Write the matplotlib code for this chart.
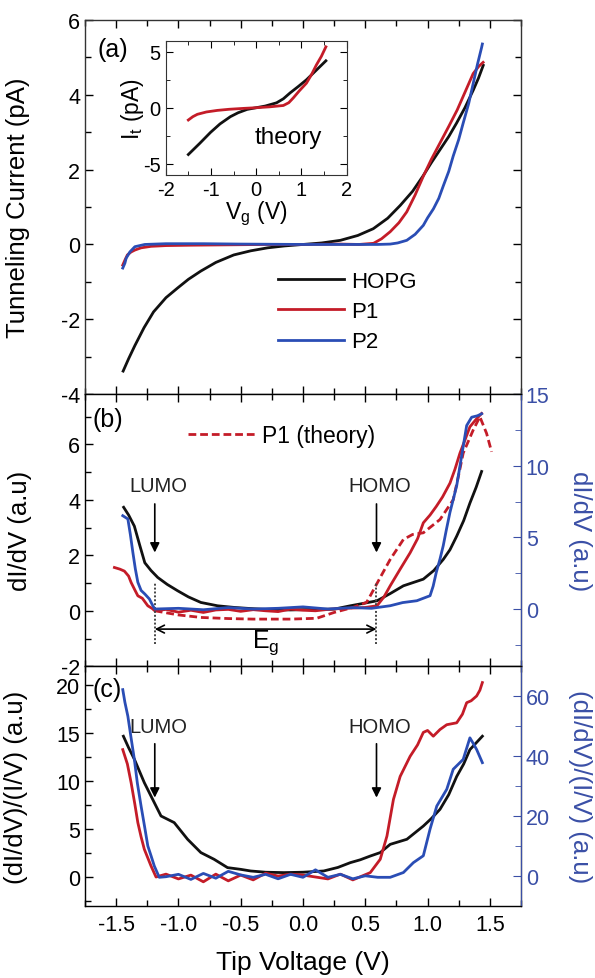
import matplotlib
matplotlib.use("Agg")
import matplotlib.pyplot as plt
from matplotlib.ticker import MultipleLocator
from matplotlib.lines import Line2D

plt.rcParams['font.family'] = ['Liberation Sans', 'DejaVu Sans']
plt.rcParams['mathtext.fontset'] = 'custom'
plt.rcParams['mathtext.rm'] = 'Liberation Sans'
plt.rcParams['mathtext.it'] = 'Liberation Sans'
plt.rcParams['axes.unicode_minus'] = False

BLACK = '#111111'
RED = '#c41c28'
BLUE = '#2a4db5'
AXBLUE = '#3a4fa6'

# ---------------- data: panel (a) ----------------
a_hopg_v = [-1.444, -1.40, -1.35, -1.276, -1.20, -1.10, -1.006, -0.92, -0.82, -0.70, -0.556, -0.42,
            -0.284, -0.15, 0, 0.15, 0.30, 0.44, 0.564, 0.68, 0.78, 0.88, 0.964, 1.03, 1.10, 1.17,
            1.233, 1.30, 1.367, 1.41, 1.447]
a_hopg_i = [-3.38, -3.05, -2.70, -2.22, -1.80, -1.42, -1.16, -0.93, -0.71, -0.48, -0.28, -0.17,
            -0.09, -0.04, 0, 0.04, 0.11, 0.24, 0.42, 0.70, 1.04, 1.42, 1.83, 2.18, 2.53, 2.88,
            3.24, 3.65, 4.12, 4.45, 4.78]
a_p1_v = [-1.447, -1.43, -1.41, -1.38, -1.35, -1.30, -1.22, -1.10, -0.9, -0.6, -0.3, 0, 0.3, 0.45,
          0.566, 0.63, 0.70, 0.77, 0.833, 0.90, 0.967, 1.03, 1.10, 1.17, 1.238, 1.30, 1.366, 1.41, 1.446]
a_p1_i = [-0.55, -0.42, -0.28, -0.20, -0.15, -0.09, -0.05, -0.03, -0.02, -0.01, 0, 0, 0.01, 0.0,
          0.03, 0.15, 0.34, 0.58, 0.87, 1.32, 1.83, 2.27, 2.71, 3.15, 3.59, 4.06, 4.56, 4.75, 4.86]
a_p2_v = [-1.447, -1.43, -1.42, -1.39, -1.35, -1.27, -1.1, -0.8, -0.5, 0, 0.3, 0.6, 0.70, 0.76,
          0.833, 0.90, 0.966, 1.00, 1.047, 1.09, 1.126, 1.17, 1.206, 1.25, 1.286, 1.33, 1.366,
          1.40, 1.434, 1.44]
a_p2_i = [-0.63, -0.50, -0.37, -0.20, -0.06, 0.0, 0.02, 0.02, 0.01, 0, 0.0, 0.0, 0.01, 0.04,
          0.11, 0.27, 0.51, 0.71, 0.95, 1.23, 1.56, 1.95, 2.36, 2.80, 3.24, 3.76, 4.29, 4.80, 5.26, 5.35]

# inset (theory)
th_hopg_v = [-1.5, -1.25, -1.01, -0.8, -0.57, -0.4, -0.2, 0, 0.2, 0.45, 0.6, 0.75, 0.93, 1.11, 1.3, 1.54]
th_hopg_i = [-4.19, -3.2, -2.21, -1.45, -0.8, -0.45, -0.15, 0, 0.15, 0.44, 0.8, 1.33, 1.9, 2.5, 3.25, 4.2]
th_p1_v = [-1.5, -1.4, -1.3, -1.1, -0.86, -0.6, -0.28, 0, 0.3, 0.6, 0.72, 0.82, 0.95, 1.11, 1.22,
           1.33, 1.44, 1.54]
th_p1_i = [-1.1, -0.8, -0.59, -0.38, -0.24, -0.14, -0.06, 0, 0.08, 0.2, 0.45, 0.88, 1.5, 2.2, 2.95,
           3.83, 4.6, 5.45]

# ---------------- data: panel (b) ----------------
b_hopg_v = [-1.44, -1.40, -1.354, -1.31, -1.27, -1.22, -1.166, -1.09, -1.006, -0.92, -0.82, -0.686,
            -0.55, -0.42, -0.3, -0.1, 0.1, 0.25, 0.38, 0.5, 0.594, 0.70, 0.806, 0.966, 1.05, 1.126,
            1.18, 1.234, 1.29, 1.34, 1.39, 1.434]
b_hopg_y = [3.73, 3.45, 3.05, 2.35, 1.73, 1.45, 1.2, 0.95, 0.72, 0.5, 0.3, 0.18, 0.12, 0.08, 0.05,
            0.03, 0.05, 0.06, 0.18, 0.28, 0.36, 0.62, 0.9, 1.14, 1.45, 1.85, 2.2, 2.69, 3.25, 3.88,
            4.45, 5.02]
b_p1_v = [-1.514, -1.47, -1.434, -1.40, -1.38, -1.35, -1.326, -1.29, -1.246, -1.21, -1.19, -1.1,
          -1.0, -0.9, -0.8, -0.7, -0.6, -0.5, -0.4, -0.3, -0.2, -0.1, 0, 0.1, 0.2, 0.3, 0.4, 0.5,
          0.594, 0.65, 0.7, 0.78, 0.86, 0.92, 0.966, 1.02, 1.07, 1.12, 1.18, 1.22, 1.26, 1.30,
          1.34, 1.39, 1.434]
b_p1_y = [1.56, 1.50, 1.43, 1.25, 1.02, 0.75, 0.54, 0.45, 0.18, 0.08, 0.0, 0.05, -0.05, 0.02,
          -0.06, 0.03, 0.05, -0.02, 0.04, 0.0, -0.03, 0.06, 0.02, 0.0, 0.05, 0.08, 0.1, 0.12,
          0.18, 0.5, 0.9, 1.5, 2.09, 2.6, 3.17, 3.45, 3.76, 4.1, 4.6, 5.1, 5.68, 6.15, 6.63, 6.9, 7.11]
b_p1th_v = [-1.19, -1.0, -0.82, -0.6, -0.4, -0.286, -0.1, 0.11, 0.25, 0.4, 0.51, 0.54, 0.62, 0.70,
            0.806, 0.88, 0.966, 1.1, 1.206, 1.25, 1.286, 1.366, 1.42, 1.474, 1.514]
b_p1th_y = [0.0, -0.15, -0.24, -0.28, -0.3, -0.3, -0.3, -0.27, -0.06, 0.12, 0.3, 0.54, 1.2, 1.85,
            2.57, 2.75, 2.81, 3.29, 4.0, 4.9, 5.68, 6.51, 6.99, 6.39, 5.73]
b_p2_v = [-1.447, -1.406, -1.386, -1.366, -1.346, -1.326, -1.30, -1.27, -1.233, -1.21, -1.19, -1.0,
          -0.8, -0.6, -0.4, -0.2, 0, 0.2, 0.4, 0.55, 0.7, 0.8, 0.914, 1.02, 1.045, 1.07, 1.10,
          1.126, 1.15, 1.18, 1.234, 1.274, 1.314, 1.354, 1.40, 1.434]
b_p2_y = [6.52, 6.29, 5.2, 3.96, 2.8, 1.87, 1.3, 1.05, 0.7, 0.3, 0.0, 0.05, -0.05, 0.1, 0.0, 0.05,
          0.15, 0.0, 0.1, 0.05, 0.23, 0.45, 0.58, 0.93, 1.6, 2.56, 3.5, 4.43, 5.5, 6.76, 8.62,
          10.72, 12.82, 13.4, 13.5, 13.64]

# ---------------- data: panel (c) ----------------
c_hopg_v = [-1.442, -1.40, -1.354, -1.274, -1.194, -1.14, -1.034, -0.926, -0.82, -0.714, -0.606,
            -0.5, -0.42, -0.3, -0.154, 0, 0.166, 0.28, 0.38, 0.46, 0.54, 0.62, 0.7, 0.834, 0.966,
            1.03, 1.1, 1.17, 1.234, 1.29, 1.34, 1.39, 1.44]
c_hopg_y = [14.7, 13.5, 12.3, 9.85, 7.77, 6.37, 5.68, 3.93, 2.55, 1.85, 0.98, 0.8, 0.63, 0.5, 0.46,
            0.5, 0.63, 1.0, 1.5, 1.8, 2.19, 2.55, 3.41, 3.94, 5.32, 6.1, 7.07, 8.6, 10.5, 11.8,
            13.3, 14.0, 14.7]
c_p1_v = [-1.447, -1.41, -1.38, -1.35, -1.326, -1.30, -1.274, -1.22, -1.18, -1.1, -1.0, -0.9, -0.8,
          -0.7, -0.6, -0.5, -0.4, -0.3, -0.2, -0.1, 0, 0.1, 0.2, 0.3, 0.4, 0.54, 0.62, 0.674,
          0.726, 0.78, 0.86, 0.92, 0.966, 1.0, 1.046, 1.1, 1.154, 1.234, 1.28, 1.314, 1.35, 1.394,
          1.42, 1.44]
c_p1_y = [13.3, 11.8, 9.85, 7.6, 5.68, 4.2, 2.9, 1.15, 0.0, 0.3, -0.2, 0.2, -0.5, 0.3, -0.4, 0.2,
          -0.3, 0.4, 0.1, 0.3, 0.2, 0.0, -0.2, 0.3, -0.3, 0.46, 1.85, 4.28, 8.1, 10.5, 12.6, 13.8,
          15.1, 15.3, 14.7, 15.4, 15.9, 16.1, 17.0, 18.2, 18.4, 18.9, 19.5, 20.3]
c_p2_v = [-1.447, -1.43, -1.406, -1.38, -1.354, -1.33, -1.30, -1.27, -1.246, -1.22, -1.194, -1.154,
          -1.1, -1.0, -0.9, -0.8, -0.7, -0.6, -0.5, -0.4, -0.3, -0.2, -0.1, 0, 0.1, 0.2, 0.3, 0.4,
          0.5, 0.6, 0.7, 0.806, 0.886, 0.966, 1.02, 1.074, 1.154, 1.206, 1.286, 1.34, 1.37, 1.394, 1.44]
c_p2_y = [62.2, 58, 53.3, 46, 38.9, 31, 23.3, 16, 10, 6.7, 3.3, -0.5, -0.3, 0.5, -1.2, 0.8, -0.8,
          1.5, 0.3, -0.5, 0.5, -1.0, 0.5, -0.5, 2.0, -0.5, 0.5, -1.0, 0.0, -0.5, -0.5, 1.1, 4.4,
          6.7, 15.6, 23.3, 28.9, 35.6, 38.9, 46.1, 44, 42.2, 37.8]

series_labels = ['HOPG', 'P1', 'P2']
theory_label = 'P1 (theory)'
LUMO_V = -1.19
HOMO_V = 0.59

# ---------------- figure ----------------
fig = plt.figure(figsize=(5.95, 9.79), dpi=100)
L, W = 0.1429, 0.7327
ax_a = fig.add_axes([L, 0.5962, W, 0.3827])
ax_b = fig.add_axes([L, 0.3184, W, 0.2778])
ax_c = fig.add_axes([L, 0.0738, W, 0.2446])
ax_in = fig.add_axes([0.2785, 0.8205, 0.3042, 0.1369])

LW = 2.0
TFS = 15.5
LFS = 18.5
for ax in (ax_a, ax_b, ax_c):
    ax.set_xlim(-1.75, 1.75)
    ax.xaxis.set_major_locator(MultipleLocator(0.5))
    ax.xaxis.set_minor_locator(MultipleLocator(0.25))
    ax.tick_params(which='both', direction='in', top=True, labelsize=TFS)
    ax.tick_params(which='major', length=6, width=1.0)
    ax.tick_params(which='minor', length=4, width=1.0)
    for s in ax.spines.values():
        s.set_linewidth(1.0)
        s.set_color('#333333')

# panel a
ax_a.plot(a_hopg_v, a_hopg_i, color=BLACK, lw=LW, label=series_labels[0])
ax_a.plot(a_p1_v, a_p1_i, color=RED, lw=LW, label=series_labels[1])
ax_a.plot(a_p2_v, a_p2_i, color=BLUE, lw=LW, label=series_labels[2])
ax_a.set_ylim(-4, 6)
ax_a.yaxis.set_major_locator(MultipleLocator(2))
ax_a.yaxis.set_minor_locator(MultipleLocator(1))
ax_a.tick_params(which='both', right=True, labelbottom=False)
ax_a.set_ylabel('Tunneling Current (pA)', fontsize=LFS)
ax_a.yaxis.set_label_coords(-0.126, 0.5)
ax_a.text(0.064, 0.922, '(a)', transform=ax_a.transAxes, fontsize=18, ha='center', va='center')
ax_a.legend(loc='upper left', bbox_to_anchor=(0.4427, 0.33), frameon=False, fontsize=16,
            handlelength=2.95, handletextpad=0.35, labelspacing=0.42, borderpad=0, borderaxespad=0)

# inset
ax_in.plot(th_hopg_v, th_hopg_i, color=BLACK, lw=LW)
ax_in.plot(th_p1_v, th_p1_i, color=RED, lw=LW)
ax_in.set_xlim(-2, 2)
ax_in.set_ylim(-6, 6)
ax_in.xaxis.set_major_locator(MultipleLocator(1))
ax_in.xaxis.set_minor_locator(MultipleLocator(0.5))
ax_in.yaxis.set_major_locator(MultipleLocator(5))
ax_in.yaxis.set_minor_locator(MultipleLocator(2.5))
ax_in.tick_params(which='both', direction='in', top=True, right=True, labelsize=14.5)
ax_in.tick_params(which='major', length=5)
ax_in.tick_params(which='minor', length=3)
for s in ax_in.spines.values():
    s.set_color('#333333')
ax_in.set_xlabel(r'V$_\mathregular{g}$ (V)', fontsize=16.5, labelpad=0)
ax_in.set_ylabel(r'I$_\mathregular{t}$ (pA)', fontsize=16.5, labelpad=-2)
ax_in.text(0.71, -2.65, 'theory', fontsize=17.5, ha='center', va='center')

# panel b
ax_b.plot(b_hopg_v, b_hopg_y, color=BLACK, lw=LW)
ax_b.plot(b_p1_v, b_p1_y, color=RED, lw=LW)
ax_b.plot(b_p1th_v, b_p1th_y, color=RED, lw=LW, dashes=(2.8, 1.4))
ax_b.set_ylim(-2, 7.8)
ax_b.yaxis.set_major_locator(MultipleLocator(2))
ax_b.yaxis.set_minor_locator(MultipleLocator(1))
ax_b.tick_params(which='both', labelbottom=False)
ax_b.set_ylabel('dI/dV (a.u)', fontsize=LFS)
ax_b.yaxis.set_label_coords(-0.122, 0.5)
ax_b.text(0.053, 0.908, '(b)', transform=ax_b.transAxes, fontsize=18, ha='center', va='center')
ax_b2 = ax_b.twinx()
ax_b2.plot(b_p2_v, b_p2_y, color=BLUE, lw=LW)
ax_b2.set_ylim(-4, 15)
ax_b2.yaxis.set_major_locator(MultipleLocator(5))
ax_b2.yaxis.set_minor_locator(MultipleLocator(2.5))
ax_b2.tick_params(which='both', direction='in', colors=AXBLUE, labelsize=TFS)
ax_b2.tick_params(which='major', length=6)
ax_b2.tick_params(which='minor', length=4)
ax_b2.spines['right'].set_color(AXBLUE)
ax_b2.set_ylabel('dI/dV (a.u)', fontsize=LFS, color=AXBLUE, rotation=270, va='center')
ax_b2.yaxis.set_label_coords(1.135, 0.5)
ax_b.legend(handles=[Line2D([], [], color=RED, lw=LW, dashes=(2.8, 1.4))], labels=[theory_label],
            loc='upper left', bbox_to_anchor=(0.236, 0.89), frameon=False, fontsize=16.5,
            handlelength=2.95, handletextpad=0.3, borderpad=0, borderaxespad=0)
# LUMO / HOMO marks
for v, txt in ((LUMO_V, 'LUMO'), (HOMO_V, 'HOMO')):
    ax_b.annotate('', xy=(v, 2.0), xytext=(v, 3.95),
                  arrowprops=dict(arrowstyle='-|>', color='black', lw=1.2, mutation_scale=14))
    ax_b.text(v + 0.03, 4.5, txt, fontsize=14.5, ha='center', va='center', color='#222222')
    ax_b.plot([v, v], [-1.2, 1.0], ls=(0, (1, 1)), color='#444444', lw=1.4)
ax_b.annotate('', xy=(LUMO_V, -0.66), xytext=(HOMO_V, -0.66),
              arrowprops=dict(arrowstyle='<->', color='black', lw=1.2, mutation_scale=14,
                              shrinkA=0, shrinkB=0))
ax_b.text(-0.3, -1.12, r'E$_\mathregular{g}$', fontsize=18, ha='center', va='center')

# panel c
ax_c.plot(c_hopg_v, c_hopg_y, color=BLACK, lw=LW)
ax_c.plot(c_p1_v, c_p1_y, color=RED, lw=LW)
ax_c.set_ylim(-3, 22)
ax_c.yaxis.set_major_locator(MultipleLocator(5))
ax_c.yaxis.set_minor_locator(MultipleLocator(2.5))
ax_c.set_ylabel('(dI/dV)/(I/V) (a.u)', fontsize=LFS)
ax_c.yaxis.set_label_coords(-0.13, 0.5)
ax_c.set_xlabel('Tip Voltage (V)', fontsize=19)
ax_c.xaxis.set_label_coords(0.5, -0.185)
ax_c.set_xticks([-1.5, -1.0, -0.5, 0.0, 0.5, 1.0, 1.5])
ax_c.set_xticklabels(['-1.5', '-1.0', '-0.5', '0.0', '0.5', '1.0', '1.5'])
ax_c.tick_params(axis='x', pad=6)
ax_c.text(0.05, 0.905, '(c)', transform=ax_c.transAxes, fontsize=18, ha='center', va='center')
ax_c2 = ax_c.twinx()
ax_c2.plot(c_p2_v, c_p2_y, color=BLUE, lw=LW)
ax_c2.set_ylim(-10, 70)
ax_c2.yaxis.set_major_locator(MultipleLocator(20))
ax_c2.yaxis.set_minor_locator(MultipleLocator(10))
ax_c2.tick_params(which='both', direction='in', colors=AXBLUE, labelsize=TFS)
ax_c2.tick_params(which='major', length=6)
ax_c2.tick_params(which='minor', length=4)
ax_c2.spines['right'].set_color(AXBLUE)
ax_c2.set_ylabel('(dI/dV)/(I/V) (a.u)', fontsize=LFS, color=AXBLUE, rotation=270, va='center')
ax_c2.yaxis.set_label_coords(1.135, 0.5)
for v, txt in ((LUMO_V, 'LUMO'), (HOMO_V, 'HOMO')):
    ax_c.annotate('', xy=(v, 8.0), xytext=(v, 14.2),
                  arrowprops=dict(arrowstyle='-|>', color='black', lw=1.2, mutation_scale=14))
    ax_c.text(v + 0.03, 15.7, txt, fontsize=14.5, ha='center', va='center', color='#222222')

fig.savefig('out.png', dpi=100)
